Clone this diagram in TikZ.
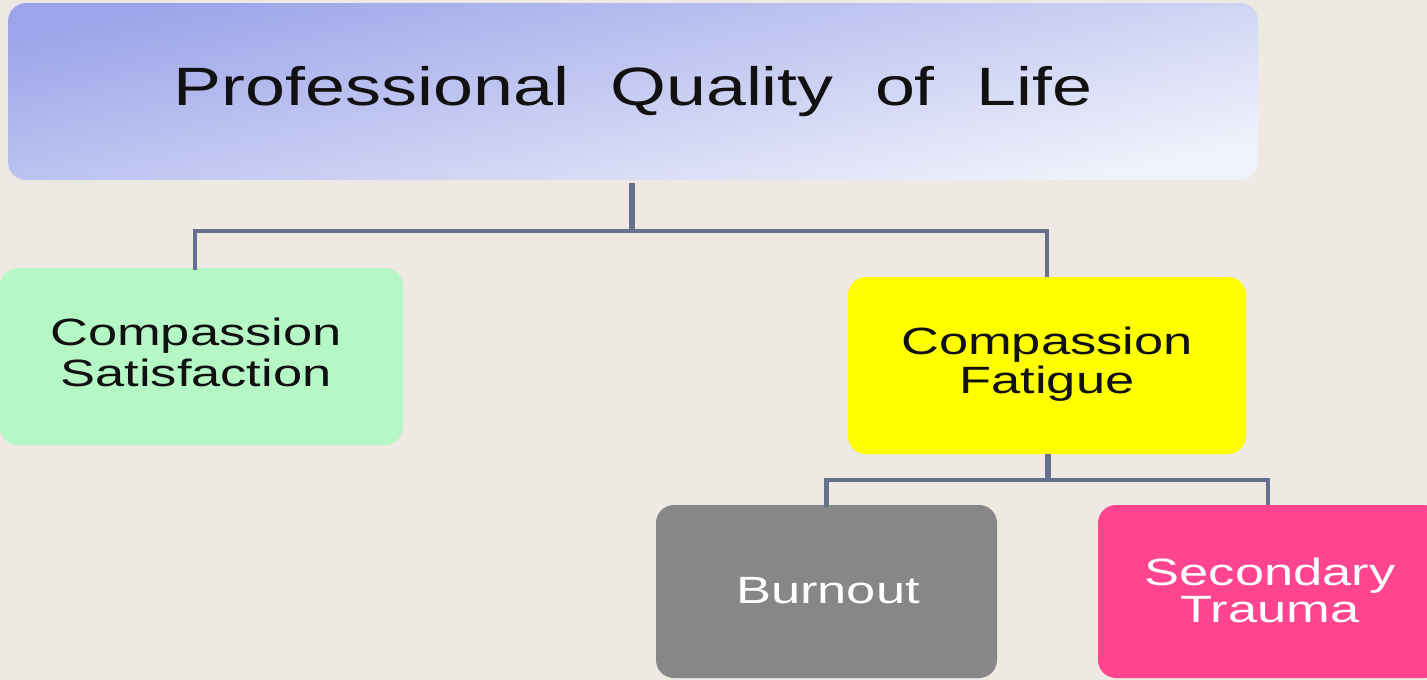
\documentclass[tikz,border=0pt]{standalone}
\usepackage{fontspec}
\setmainfont{Liberation Sans}
\usepackage{graphicx}
\definecolor{paper}{HTML}{EEE9E2}
\definecolor{linkc}{HTML}{66708F}
\definecolor{topdark}{HTML}{9CA5E9}
\definecolor{toplight}{HTML}{F0F2FB}
\definecolor{greenbox}{HTML}{B6F7C6}
\definecolor{yellowbox}{HTML}{FFFF00}
\definecolor{greybox}{HTML}{878787}
\definecolor{pinkbox}{HTML}{FF4590}
\definecolor{inktext}{HTML}{111111}
\newcommand{\smalltxt}[1]{\scalebox{1.38}[1]{\begin{tabular}{@{}c@{}}#1\end{tabular}}}
\begin{document}
\begin{tikzpicture}[x=1pt,y=-1pt,
  box/.style={rectangle, rounded corners=18pt, inner sep=0pt, align=center},
  smallfont/.style={font=\fontsize{38}{40}\selectfont},
  link/.style={draw=linkc, line width=4.5pt},
  trunk/.style={draw=linkc, line width=5.5pt}]
\useasboundingbox (0,0) rectangle (1427,680);
\clip (0,0) rectangle (1427,680);
\fill[paper] (0,0) rectangle (1427,680);
% top box
\node[box, minimum width=1250pt, minimum height=177pt,
      top color=topdark, bottom color=toplight, shading angle=12,
      text=inktext, font=\fontsize{54}{60}\selectfont] (top) at (633,91.5)
  {\scalebox{1.33}[1]{Professional\hspace{31pt}Quality\hspace{31pt}of\hspace{31pt}Life}};
% second level
\node[box, fill=greenbox, minimum width=403pt, minimum height=177pt, text=inktext, smallfont] (cs) at (201.5,356.5) {};
\node[text=inktext, smallfont, inner sep=0pt] (cst) at (196,357.5) {\smalltxt{Compassion\\[1pt]Satisfaction}};
\node[box, fill=yellowbox, minimum width=398pt, minimum height=177pt, text=inktext, smallfont] (cf) at (1047,365.5)
  {\smalltxt{Compassion\\[-1pt]Fatigue}};
% third level
\node[box, fill=greybox, minimum width=341pt, minimum height=173pt, text=white, smallfont] (bo) at (826.5,591.5) {};
\node[text=white, smallfont, inner sep=0pt] (bot) at (828,595) {\smalltxt{Burnout}};
\node[box, fill=pinkbox, minimum width=344pt, minimum height=173pt, text=white, smallfont] (st) at (1270,591.5) {};
\node[text=white, smallfont, inner sep=0pt] (stt) at (1270,596) {\smalltxt{Secondary\\[-3pt]Trauma}};
% connectors
\coordinate (j1) at (632,231);
\coordinate (j2) at (1048,480);
\coordinate (j3) at (1268,480);
\draw[trunk] ([yshift=-3pt]top.south -| j1) -- (j1);
\draw[link, line cap=rect] (j1) -| ([xshift=-6.5pt]cs.north);
\draw[link] (j1) -| (cf.north);
\draw[trunk] (cf.south -| j2) -- (j2);
\draw[link, line cap=rect] (j2) -| (bo.north);
\draw[link] (j2) -- (j3) -- (st.north -| j3);
\end{tikzpicture}
\end{document}
